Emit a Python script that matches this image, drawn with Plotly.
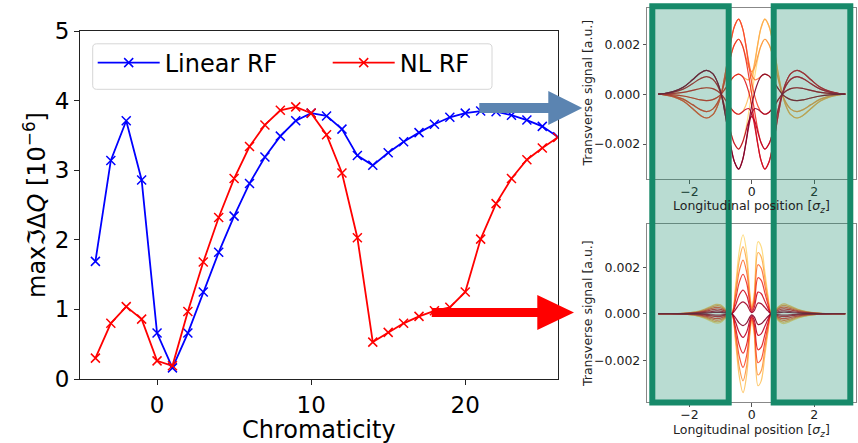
import plotly.graph_objects as go
from plotly.colors import sample_colorscale
import numpy as np

W, H = 858, 443

# ---------------- main chart data ----------------
chroma = [-4, -3, -2, -1, 0, 1, 2, 3, 4, 5, 6, 7, 8, 9, 10, 11, 12, 13, 14, 15,
          16, 17, 18, 19, 20, 21, 22, 23, 24, 25, 26]
linear_rf = [1.69, 3.14, 3.71, 2.86, 0.66, 0.16, 0.66, 1.25, 1.82, 2.34, 2.81,
             3.19, 3.49, 3.71, 3.82, 3.78, 3.59, 3.21, 3.07, 3.25, 3.41, 3.54,
             3.66, 3.76, 3.82, 3.85, 3.84, 3.79, 3.72, 3.63, 3.48]
nl_rf = [0.30, 0.80, 1.04, 0.86, 0.26, 0.19, 0.97, 1.68, 2.32, 2.88, 3.34, 3.65,
         3.86, 3.91, 3.82, 3.51, 2.96, 2.03, 0.53, 0.67, 0.80, 0.90, 0.98, 1.03,
         1.25, 2.01, 2.52, 2.88, 3.15, 3.32, 3.47]

# ---------------- inset data (units of 1e-3) ----------------
# top inset: half profiles for z >= 0 (antisymmetric S, symmetric C)
top_z_half = [0, 0.1, 0.2, 0.3, 0.42, 0.55, 0.7, 0.85, 0.98, 1.1, 1.25, 1.45,
              1.65, 1.9, 2.2, 2.5, 2.8, 3.0]
top_S_half = [0, 0.75, 1.45, 1.95, 2.2, 2.0, 1.4, 0.6, 0, -0.35, -0.6, -0.7,
              -0.62, -0.42, -0.2, -0.08, -0.02, 0]
top_C_half = [0.9, 1.1, 1.55, 1.95, 2.2, 2.0, 1.4, 0.6, 0, -0.35, -0.6, -0.7,
              -0.62, -0.42, -0.2, -0.08, -0.02, 0]
top_phases_deg = [0, 30, 60, 90, 120, 150, 180, 210, 240, 270, 300, 330]

# bottom inset: profile and per-curve amplitudes
bot_z = [-3.0, -2.6, -2.2, -1.8, -1.5, -1.3, -1.15, -1.0, -0.85, -0.75, -0.64,
         -0.52, -0.4, -0.28, -0.16, -0.06, 0.0, 0.08, 0.2, 0.3, 0.42, 0.52,
         0.62, 0.72, 0.82, 0.95, 1.05, 1.2, 1.5, 1.8, 2.2, 2.6, 3.0]
bot_B = [0, 0, -0.02, -0.08, -0.2, -0.32, -0.4, -0.38, -0.2, -0.05, 0, 1.2,
         2.7, 3.4, 2.6, 0.9, 0.3, 0.9, 3.1, 2.9, 1.8, 0.8, 0, -0.08, -0.25,
         -0.4, -0.42, -0.35, -0.18, -0.08, -0.02, 0, 0]
bot_amps = [1.0, -1.0, 0.85, -0.85, 0.68, -0.68, 0.5, -0.5, 0.3, -0.3, 0.15, -0.15]

color_pos = [0.25, 0.32, 0.4, 0.48, 0.56, 0.64, 0.7, 0.76, 0.82, 0.88, 0.94, 1.0]
curve_colors = sample_colorscale('YlOrRd', color_pos)

FONT = "DejaVu Sans"
fig = go.Figure()

fig.add_trace(go.Scatter(
    x=chroma, y=linear_rf, mode='lines+markers', name='Linear RF',
    line=dict(color='#0000ff', width=1.8),
    marker=dict(symbol='x-thin', size=9, line=dict(width=1.5, color='#0000ff')),
    xaxis='x', yaxis='y'))
fig.add_trace(go.Scatter(
    x=chroma, y=nl_rf, mode='lines+markers', name='NL RF',
    line=dict(color='#ff0000', width=1.8),
    marker=dict(symbol='x-thin', size=9, line=dict(width=1.5, color='#ff0000')),
    xaxis='x', yaxis='y'))

# top inset curves
zh = np.array(top_z_half)
Sh = np.array(top_S_half)
Ch = np.array(top_C_half)
z_full = np.concatenate([-zh[::-1], zh[1:]])
S_full = np.concatenate([-Sh[::-1], Sh[1:]]) * 1e-3
C_full = np.concatenate([Ch[::-1], Ch[1:]]) * 1e-3
for th, col in zip(top_phases_deg, curve_colors):
    t = np.deg2rad(th)
    y = np.cos(t) * S_full + np.sin(t) * C_full
    fig.add_trace(go.Scatter(x=z_full, y=y, mode='lines', showlegend=False,
                             line=dict(color=col, width=1.2, shape='spline', smoothing=1.0),
                             opacity=0.9, xaxis='x2', yaxis='y2', hoverinfo='skip'))

# bottom inset curves
Bb = np.array(bot_B) * 1e-3
for a, col in zip(bot_amps, curve_colors):
    fig.add_trace(go.Scatter(x=bot_z, y=a * Bb, mode='lines', showlegend=False,
                             line=dict(color=col, width=1.2, shape='spline', smoothing=1.0),
                             opacity=0.9, xaxis='x3', yaxis='y3', hoverinfo='skip'))

def px(x):
    return x / W

def py(y):
    return 1 - y / H

main_ax = dict(showline=True, mirror=True, linecolor='#222', linewidth=1.2,
               ticks='outside', ticklen=5, tickwidth=1.2, tickcolor='#222',
               showgrid=False, zeroline=False, automargin=False,
               tickfont=dict(family=FONT, size=23, color='black'))
inset_ax = dict(showline=True, mirror=True, linecolor='#888', linewidth=1,
                ticks='outside', ticklen=3.5, tickwidth=1, tickcolor='#555',
                showgrid=False, zeroline=False, automargin=False,
                tickfont=dict(family=FONT, size=12.5, color='#222'))

fig.update_layout(
    width=W, height=H, autosize=False,
    margin=dict(l=0, r=0, t=0, b=0, pad=0, autoexpand=False),
    paper_bgcolor='white', plot_bgcolor='white',
    font=dict(family=FONT, color='black'),
    xaxis=dict(domain=[px(80), px(557.7)], range=[-5, 26], anchor='y',
               tickvals=[0, 10, 20], **main_ax),
    yaxis=dict(domain=[py(379), py(31)], range=[0, 5], anchor='x',
               tickvals=[0, 1, 2, 3, 4, 5], **main_ax),
    xaxis2=dict(domain=[px(647.3), px(856.2)], range=[-3.35, 3.35], anchor='y2',
                tickvals=[-2, 0, 2], ticktext=['−2', '0', '2'], ticklabelstandoff=-3,
                **inset_ax),
    yaxis2=dict(domain=[py(179), py(8.3)], range=[-0.0034, 0.00344], anchor='x2',
                tickvals=[-0.002, 0, 0.002], ticktext=['−0.002', '0.000', '0.002'], **inset_ax),
    xaxis3=dict(domain=[px(647.3), px(856.2)], range=[-3.35, 3.35], anchor='y3',
                tickvals=[-2, 0, 2], ticktext=['−2', '0', '2'], ticklabelstandoff=-3,
                **inset_ax),
    yaxis3=dict(domain=[py(402), py(224.3)], range=[-0.0038, 0.00385], anchor='x3',
                tickvals=[-0.002, 0, 0.002], ticktext=['−0.002', '0.000', '0.002'], **inset_ax),
    legend=dict(orientation='h', x=px(92.7), y=py(40.5), xanchor='left', yanchor='top',
                bgcolor='rgba(0,0,0,0)', borderwidth=0,
                font=dict(family=FONT, size=24, color='black'),
                entrywidth=158, entrywidthmode='pixels', itemwidth=62),
    showlegend=True,
)

def ann(text, x, y, size, color='black', angle=0):
    return dict(text=text, x=px(x), y=py(y), xref='paper', yref='paper',
                xanchor='center', yanchor='middle', showarrow=False,
                textangle=angle, font=dict(family=FONT, size=size, color=color))

annotations = [
    ann('Chromaticity', 318.9, 430, 24),
    ann('maxℑΔ<i>Q</i> [10<sup>−6</sup>]', 35, 205, 24, angle=-90),
    ann('Transverse signal [a.u.]', 587, 93.5, 12.5, '#222', -90),
    ann('Transverse signal [a.u.]', 587, 314, 12.5, '#222', -90),
    ann('Longitudinal position [<i>σ<sub>z</sub></i>]', 751.7, 207, 12.5, '#222'),
    ann('Longitudinal position [<i>σ<sub>z</sub></i>]', 751.7, 430, 12.5, '#222'),
]
fig.update_layout(annotations=annotations)

def arrow_path(x0, x_head, x_tip, yc, shaft_half, head_half):
    pts = [(x0, yc - shaft_half), (x_head, yc - shaft_half), (x_head, yc - head_half),
           (x_tip, yc), (x_head, yc + head_half), (x_head, yc + shaft_half),
           (x0, yc + shaft_half)]
    d = 'M ' + ' L '.join(f'{px(a):.5f},{py(b):.5f}' for a, b in pts) + ' Z'
    return d

def rounded_rect(x0, y0, x1, y1, r):
    P = lambda a, b: f'{px(a):.5f},{py(b):.5f}'
    return ('M ' + P(x0 + r, y0) + ' L ' + P(x1 - r, y0) + ' Q ' + P(x1, y0) + ' ' + P(x1, y0 + r)
            + ' L ' + P(x1, y1 - r) + ' Q ' + P(x1, y1) + ' ' + P(x1 - r, y1)
            + ' L ' + P(x0 + r, y1) + ' Q ' + P(x0, y1) + ' ' + P(x0, y1 - r)
            + ' L ' + P(x0, y0 + r) + ' Q ' + P(x0, y0) + ' ' + P(x0 + r, y0) + ' Z')

shapes = []
# legend frame (matplotlib-style rounded box)
shapes.append(dict(type='path', xref='paper', yref='paper',
                   path=rounded_rect(92.7, 43.8, 492, 89.3, 4),
                   fillcolor='rgba(255,255,255,0.85)', line=dict(color='#d6d6d6', width=1),
                   layer='below'))
# green highlight boxes spanning both insets
for xl, xr in [(652.3, 728.7), (773.7, 850.3)]:
    shapes.append(dict(type='rect', xref='paper', yref='paper',
                       x0=px(xl), x1=px(xr), y0=py(402.5), y1=py(6.3),
                       line=dict(color='#178a6a', width=6),
                       fillcolor='rgba(23,138,106,0.3)', layer='above'))
# arrows
shapes.append(dict(type='path', xref='paper', yref='paper',
                   path=arrow_path(479.3, 548.3, 582.3, 108, 5, 17),
                   fillcolor='#5b84b1', line=dict(width=0), layer='above'))
shapes.append(dict(type='path', xref='paper', yref='paper',
                   path=arrow_path(431.7, 537.3, 574, 312.5, 4.5, 17.5),
                   fillcolor='#ff0000', line=dict(width=0), layer='above'))
fig.update_layout(shapes=shapes)

fig.write_html('out.html')
